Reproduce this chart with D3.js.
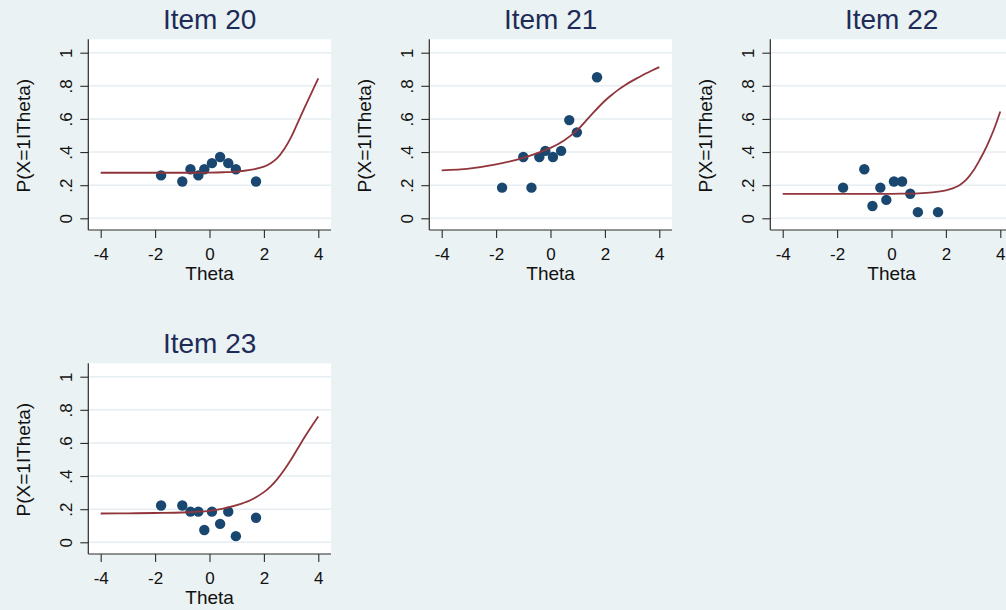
<!DOCTYPE html>
<html>
<head>
<meta charset="utf-8">
<script src="https://cdn.jsdelivr.net/npm/d3@7"></script>
<style>
  html, body { margin: 0; padding: 0; background: #eaf2f3; }
  svg { display: block; }
  text { font-family: "Liberation Sans", Arial, Helvetica, sans-serif; }
</style>
</head>
<body>
<svg id="chart" width="1006" height="610"></svg>
<script>
// Item characteristic curves with observed proportions per score group
const items = ["Item 20", "Item 21", "Item 22", "Item 23"];

// Mean ability of each score group (shared by all items)
const groupTheta = [-1.78, -1.0, -0.7, -0.41, -0.19, 0.09, 0.39, 0.69, 0.97, 1.71];

// Observed proportion answering correctly, per item and group
const observed20 = [0.259, 0.222, 0.296, 0.259, 0.296, 0.333, 0.370, 0.333, 0.296, 0.222];
const observed21 = [0.185, 0.370, 0.185, 0.370, 0.407, 0.370, 0.407, 0.593, 0.519, 0.852];
const observed22 = [0.185, 0.296, 0.074, 0.185, 0.111, 0.222, 0.222, 0.148, 0.037, 0.037];
const observed23 = [0.222, 0.222, 0.185, 0.185, 0.074, 0.185, 0.111, 0.185, 0.037, 0.148];

// Model curve, sampled along theta
const curveTheta = [-4, -3, -2, -1, 0, 0.5, 1, 1.5, 2, 2.25, 2.5, 2.75, 3, 3.25, 3.5, 3.75, 4];
const curve20 = [0.275, 0.275, 0.275, 0.275, 0.276, 0.278, 0.282, 0.292, 0.312, 0.333, 0.365, 0.418, 0.490, 0.580, 0.670, 0.758, 0.845];
const curve21 = [0.290, 0.300, 0.325, 0.365, 0.425, 0.470, 0.535, 0.625, 0.710, 0.745, 0.777, 0.805, 0.830, 0.852, 0.874, 0.894, 0.913];
const curve22 = [0.148, 0.148, 0.148, 0.148, 0.148, 0.149, 0.151, 0.157, 0.169, 0.181, 0.200, 0.233, 0.285, 0.355, 0.435, 0.530, 0.645];
const curve23 = [0.174, 0.175, 0.177, 0.180, 0.190, 0.203, 0.224, 0.254, 0.303, 0.338, 0.383, 0.438, 0.500, 0.568, 0.636, 0.700, 0.760];

const xTicks = [-4, -2, 0, 2, 4];
const yTicks = [0, 0.2, 0.4, 0.6, 0.8, 1];
const yTickLabels = ["0", ".2", ".4", ".6", ".8", "1"];

const observedByItem = [observed20, observed21, observed22, observed23];
const curveByItem = [curve20, curve21, curve22, curve23];

// Panel grid: three per row
const panelOffsets = [[0, 0], [341, 0], [682, 0], [0, 324]];

// Geometry inside one panel
const region = { left: 88.3, right: 331, top: 39.3, bottom: 230 };
const x = d3.scaleLinear().domain([-4, 4]).range([100.7, 318.3]);
const y = d3.scaleLinear().domain([0, 1]).range([218.3, 52.7]);

const colors = {
  marker: "#1a476f",
  line: "#90353b",
  title: "#1e2b58",
  grid: "#e6eef1",
  axis: "#2b2b2b",
  text: "#111111"
};

const svg = d3.select("#chart");
svg.append("rect").attr("width", 1006).attr("height", 610).attr("fill", "#eaf2f3");

const line = d3.line()
  .x(d => x(d[0]))
  .y(d => y(d[1]))
  .curve(d3.curveCatmullRom.alpha(0.5));

items.forEach((name, i) => {
  const [dx, dy] = panelOffsets[i];
  const g = svg.append("g").attr("transform", `translate(${dx},${dy})`);

  // plot region
  g.append("rect")
    .attr("x", region.left).attr("y", region.top)
    .attr("width", region.right - region.left)
    .attr("height", region.bottom - region.top)
    .attr("fill", "#ffffff");

  // horizontal gridlines
  g.append("g").selectAll("line").data(yTicks).join("line")
    .attr("x1", region.left).attr("x2", region.right)
    .attr("y1", d => y(d)).attr("y2", d => y(d))
    .attr("stroke", colors.grid).attr("stroke-width", 1.6);

  // y axis
  const yAxis = g.append("g")
    .attr("transform", `translate(${region.left},0)`)
    .call(d3.axisLeft(y).tickValues(yTicks)
      .tickFormat((d, k) => yTickLabels[k]).tickSize(8).tickSizeOuter(0));
  yAxis.select(".domain").remove();
  yAxis.selectAll(".tick line").attr("stroke", colors.axis).attr("stroke-width", 1.1);
  yAxis.selectAll(".tick text")
    .attr("x", 0).attr("y", -16).attr("dy", 0)
    .attr("transform", "rotate(-90)")
    .attr("text-anchor", "middle")
    .attr("fill", colors.text)
    .style("font-size", "17px");

  // x axis
  const xAxis = g.append("g")
    .attr("transform", `translate(0,${region.bottom})`)
    .call(d3.axisBottom(x).tickValues(xTicks)
      .tickFormat(d => String(d)).tickSize(8).tickSizeOuter(0));
  xAxis.select(".domain").remove();
  xAxis.selectAll(".tick line").attr("stroke", colors.axis).attr("stroke-width", 1.1);
  xAxis.selectAll(".tick text")
    .attr("y", 30).attr("dy", 0)
    .attr("fill", colors.text)
    .style("font-size", "17px");

  // axis lines along the plot region edges
  g.append("line")
    .attr("x1", region.left).attr("x2", region.left)
    .attr("y1", region.top).attr("y2", region.bottom)
    .attr("stroke", colors.axis).attr("stroke-width", 1.2);
  g.append("line")
    .attr("x1", region.left).attr("x2", region.right)
    .attr("y1", region.bottom).attr("y2", region.bottom)
    .attr("stroke", colors.axis).attr("stroke-width", 1.2);

  // observed proportions
  g.append("g").selectAll("circle")
    .data(groupTheta.map((t, k) => [t, observedByItem[i][k]]))
    .join("circle")
    .attr("cx", d => x(d[0])).attr("cy", d => y(d[1]))
    .attr("r", 5.2)
    .attr("fill", colors.marker);

  // model curve
  g.append("path")
    .datum(curveTheta.map((t, k) => [t, curveByItem[i][k]]))
    .attr("d", line)
    .attr("fill", "none")
    .attr("stroke", colors.line)
    .attr("stroke-width", 1.8);

  // titles
  const cx = (region.left + region.right) / 2;
  g.append("text")
    .attr("x", cx).attr("y", 29.3)
    .attr("text-anchor", "middle")
    .attr("fill", colors.title)
    .style("font-size", "28px")
    .text(name);

  g.append("text")
    .attr("x", cx).attr("y", 279.5)
    .attr("text-anchor", "middle")
    .attr("fill", colors.text)
    .style("font-size", "19px")
    .text("Theta");

  g.append("text")
    .attr("transform", `translate(29.5,${(region.top + region.bottom) / 2 + 1}) rotate(-90)`)
    .attr("text-anchor", "middle")
    .attr("fill", colors.text)
    .style("font-size", "19px")
    .text("P(X=1ITheta)");
});
</script>
</body>
</html>
